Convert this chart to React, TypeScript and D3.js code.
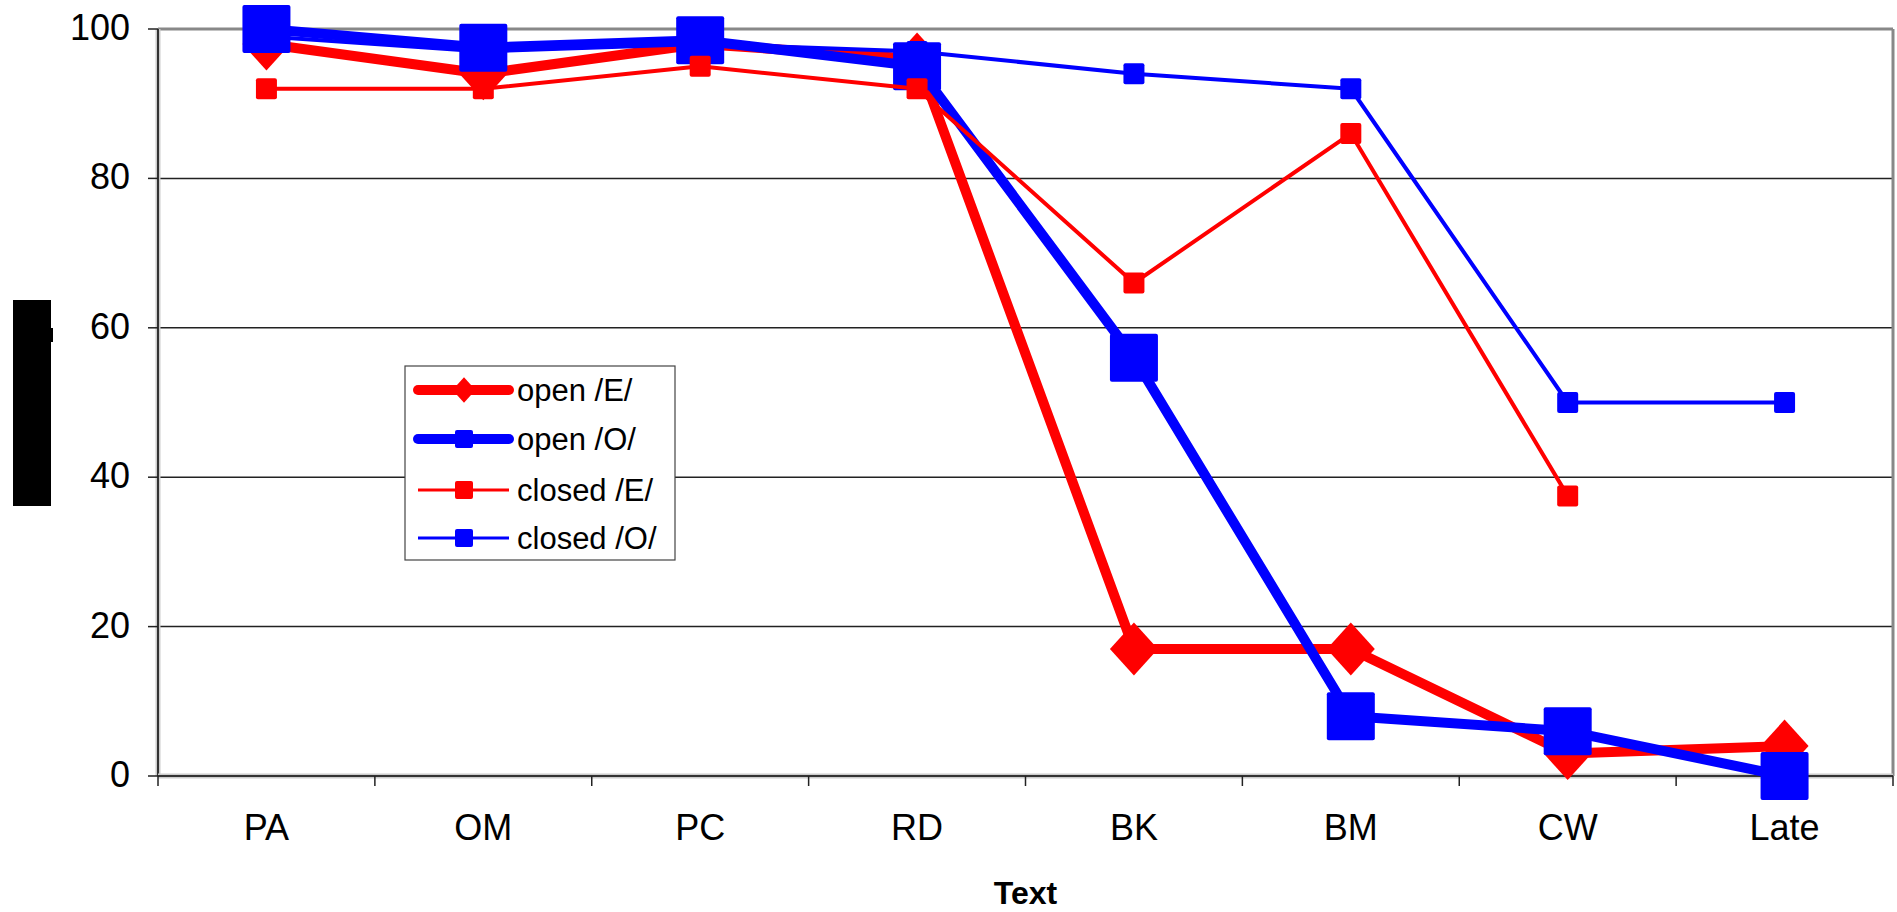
import React, { useEffect } from 'react';
import * as d3 from 'd3';

const categories = ['PA', 'OM', 'PC', 'RD', 'BK', 'BM', 'CW', 'Late'];
const openE: (number | null)[] = [98, 94, 98, 96, 17, 17, 3, 4];
const openO: (number | null)[] = [100, 97.5, 98.5, 95, 56, 8, 6, 0];
const closedE: (number | null)[] = [92, 92, 95, 92, 66, 86, 37.5, null];
const closedO: (number | null)[] = [99, 97, 98, 97, 94, 92, 50, 50];
const yTicks = [0, 20, 40, 60, 80, 100];

const W = 1897;
const H = 912;
const left = 158, right = 1893, top = 29, bottom = 776;
const FONT = '"Liberation Sans", Arial, sans-serif';

const x = d3.scaleBand<string>().domain(categories).range([left, right]);
const y = d3.scaleLinear().domain([0, 100]).range([bottom, top]);
const cx = (c: string) => (x(c) as number) + x.bandwidth() / 2;

const series = [
  { name: 'open /E/', values: openE, color: '#ff0000', width: 10, marker: 'diamond', size: 50 },
  { name: 'open /O/', values: openO, color: '#0000ff', width: 10, marker: 'square', size: 48 },
  { name: 'closed /E/', values: closedE, color: '#ff0000', width: 4, marker: 'square', size: 21 },
  { name: 'closed /O/', values: closedO, color: '#0000ff', width: 4, marker: 'square', size: 21 },
];

const Marker = ({ kind, px, py, size, color }: any) => {
  if (kind === 'diamond') {
    const hw = size * 0.48, hh = size * 0.53;
    return <path d={`M${px},${py - hh}L${px + hw},${py}L${px},${py + hh}L${px - hw},${py}Z`} fill={color} />;
  }
  return <rect x={px - size / 2} y={py - size / 2} width={size} height={size} rx={2} fill={color} />;
};

const App = () => {
  useEffect(() => {
    document.body.style.overflow = 'hidden';
  }, []);

  const line = d3.line<number | null>()
    .defined(v => v != null)
    .x((_, i) => cx(categories[i]))
    .y(v => y(v as number));

  const legX = 405, legY = 366, legW = 270, legH = 194;
  const rowY = [390, 439, 490, 538];

  return (
    <svg width={W} height={H} style={{ position: 'absolute', left: 0, top: 0, background: '#fff' }}>
      {/* y axis title box */}
      <rect x={13} y={300} width={38} height={206} fill="#000" />
      <rect x={49} y={328} width={4} height={14} fill="#000" />

      {/* gridlines */}
      {yTicks.filter(t => t > 0 && t < 100).map(t => (
        <line key={t} x1={left} x2={right} y1={y(t)} y2={y(t)} stroke="#222" strokeWidth={1.5} />
      ))}
      {/* top and right border */}
      <line x1={left} x2={right} y1={top} y2={top} stroke="#888" strokeWidth={3} />
      <line x1={right} x2={right} y1={top} y2={bottom} stroke="#888" strokeWidth={3} />

      {/* axes */}
      <line x1={left} x2={left} y1={top} y2={bottom} stroke="#ccc" strokeWidth={5} />
      <line x1={left} x2={left} y1={top} y2={bottom} stroke="#333" strokeWidth={2} />
      <line x1={left} x2={right} y1={bottom} y2={bottom} stroke="#ccc" strokeWidth={5} />
      <line x1={left} x2={right} y1={bottom} y2={bottom} stroke="#333" strokeWidth={2} />

      {/* y ticks & labels */}
      {yTicks.map(t => (
        <g key={t}>
          <line x1={left - 10} x2={left} y1={y(t)} y2={y(t)} stroke="#222" strokeWidth={1.5} />
          <text x={130} y={y(t) + 11} textAnchor="end" fontFamily={FONT} fontSize={36} fill="#000">{t}</text>
        </g>
      ))}

      {/* x ticks & labels */}
      {[...categories.map(c => x(c) as number), right].map((px, i) => (
        <line key={i} x1={px} x2={px} y1={bottom} y2={bottom + 10} stroke="#222" strokeWidth={1.5} />
      ))}
      {categories.map(c => (
        <text key={c} x={cx(c)} y={840} textAnchor="middle" fontFamily={FONT} fontSize={36} fill="#000">{c}</text>
      ))}
      <text x={(left + right) / 2} y={904} textAnchor="middle" fontFamily={FONT} fontSize={32} fontWeight="bold" fill="#000">Text</text>

      {/* series */}
      {series.map(s => (
        <g key={s.name}>
          <path d={line(s.values) || ''} fill="none" stroke={s.color} strokeWidth={s.width} strokeLinejoin="round" />
          {s.values.map((v, i) => v == null ? null : (
            <Marker key={i} kind={s.marker} px={cx(categories[i])} py={y(v)} size={s.size} color={s.color} />
          ))}
        </g>
      ))}

      {/* legend */}
      <rect x={legX} y={legY} width={legW} height={legH} fill="#fff" stroke="#444" strokeWidth={1.2} />
      {series.map((s, i) => (
        <g key={s.name}>
          <line x1={418} x2={509} y1={rowY[i]} y2={rowY[i]} stroke={s.color} strokeWidth={s.width === 10 ? 10 : 3} strokeLinecap={s.width === 10 ? 'round' : 'butt'} />
          <Marker kind={s.marker} px={464} py={rowY[i]} size={s.marker === 'diamond' ? 24 : 18} color={s.color} />
          <text x={517} y={rowY[i] + 11} fontFamily={FONT} fontSize={31} fill="#000">{s.name}</text>
        </g>
      ))}
    </svg>
  );
};

export default App;
